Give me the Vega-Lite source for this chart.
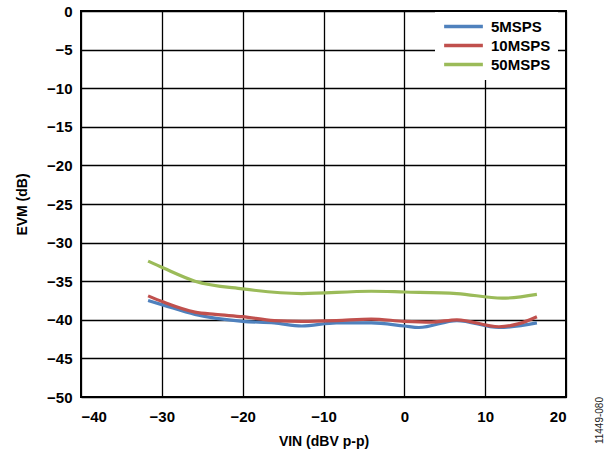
{
  "$schema": "https://vega.github.io/schema/vega-lite/v6.json",
  "width": 485,
  "height": 386,
  "autosize": "none",
  "padding": {"left": 81, "top": 11, "right": 41, "bottom": 56},
  "background": "white",
  "config": {
    "font": "Liberation Sans",
    "view": {"stroke": "black", "strokeWidth": 2},
    "axis": {
      "domain": false,
      "ticks": false,
      "grid": true,
      "gridColor": "black",
      "gridWidth": 1.3,
      "gridOpacity": 1,
      "labelFont": "Liberation Sans",
      "labelFontSize": 15,
      "labelFontWeight": "bold",
      "labelColor": "black",
      "titleFont": "Liberation Sans",
      "titleFontSize": 14,
      "titleFontWeight": "bold",
      "titleColor": "black"
    }
  },
  "title": {
    "text": "11449-080",
    "orient": "right",
    "anchor": "end",
    "frame": "group",
    "angle": -90,
    "fontSize": 10,
    "fontWeight": "normal",
    "color": "#222222",
    "offset": 19
  },
  "data": {
    "values": [
      {"series": "5MSPS", "x": -31.7, "y": -37.5},
      {"series": "5MSPS", "x": -29.8, "y": -38.1},
      {"series": "5MSPS", "x": -25.9, "y": -39.3},
      {"series": "5MSPS", "x": -20.0, "y": -40.2},
      {"series": "5MSPS", "x": -16.1, "y": -40.4},
      {"series": "5MSPS", "x": -12.7, "y": -40.8},
      {"series": "5MSPS", "x": -8.4, "y": -40.4},
      {"series": "5MSPS", "x": -4.1, "y": -40.4},
      {"series": "5MSPS", "x": 0.0, "y": -40.8},
      {"series": "5MSPS", "x": 1.8, "y": -41.0},
      {"series": "5MSPS", "x": 6.5, "y": -40.1},
      {"series": "5MSPS", "x": 11.7, "y": -41.0},
      {"series": "5MSPS", "x": 16.4, "y": -40.4},
      {"series": "10MSPS", "x": -31.7, "y": -36.9},
      {"series": "10MSPS", "x": -29.8, "y": -37.7},
      {"series": "10MSPS", "x": -25.9, "y": -39.0},
      {"series": "10MSPS", "x": -23.4, "y": -39.3},
      {"series": "10MSPS", "x": -20.0, "y": -39.6},
      {"series": "10MSPS", "x": -16.1, "y": -40.1},
      {"series": "10MSPS", "x": -12.7, "y": -40.2},
      {"series": "10MSPS", "x": -8.4, "y": -40.1},
      {"series": "10MSPS", "x": -4.1, "y": -39.9},
      {"series": "10MSPS", "x": 0.0, "y": -40.2},
      {"series": "10MSPS", "x": 3.4, "y": -40.3},
      {"series": "10MSPS", "x": 6.5, "y": -40.0},
      {"series": "10MSPS", "x": 11.7, "y": -40.9},
      {"series": "10MSPS", "x": 14.2, "y": -40.5},
      {"series": "10MSPS", "x": 16.4, "y": -39.6},
      {"series": "50MSPS", "x": -31.7, "y": -32.4},
      {"series": "50MSPS", "x": -29.8, "y": -33.3},
      {"series": "50MSPS", "x": -25.9, "y": -35.0},
      {"series": "50MSPS", "x": -20.0, "y": -36.0},
      {"series": "50MSPS", "x": -12.7, "y": -36.6},
      {"series": "50MSPS", "x": -4.1, "y": -36.3},
      {"series": "50MSPS", "x": 0.0, "y": -36.4},
      {"series": "50MSPS", "x": 6.5, "y": -36.6},
      {"series": "50MSPS", "x": 12.1, "y": -37.2},
      {"series": "50MSPS", "x": 16.4, "y": -36.7}
    ]
  },
  "mark": {"type": "line", "strokeWidth": 3.2, "interpolate": "monotone"},
  "encoding": {
    "x": {
      "field": "x",
      "type": "quantitative",
      "scale": {"domain": [-40, 20], "nice": false},
      "axis": {
        "values": [-40, -30, -20, -10, 0, 10, 20],
        "title": "VIN (dBV p-p)",
        "labelPadding": 12,
        "titlePadding": 10
      }
    },
    "y": {
      "field": "y",
      "type": "quantitative",
      "scale": {"domain": [-50, 0], "nice": false},
      "axis": {
        "values": [-50, -45, -40, -35, -30, -25, -20, -15, -10, -5, 0],
        "title": "EVM (dB)",
        "labelPadding": 9,
        "titlePadding": 17
      }
    },
    "color": {
      "field": "series",
      "type": "nominal",
      "sort": ["5MSPS", "10MSPS", "50MSPS"],
      "scale": {
        "domain": ["5MSPS", "10MSPS", "50MSPS"],
        "range": ["#4f81bd", "#c0504d", "#9bbb59"]
      },
      "legend": {
        "title": null,
        "orient": "none",
        "legendX": 354,
        "legendY": 1,
        "fillColor": "white",
        "padding": 7,
        "symbolType": "stroke",
        "symbolSize": 1500,
        "symbolStrokeWidth": 3.5,
        "clipHeight": 15,
        "labelFontSize": 15,
        "labelFontWeight": "bold",
        "labelColor": "black",
        "labelOffset": 6,
        "rowPadding": 3,
        "labelFont": "Liberation Sans"
      }
    }
  }
}
